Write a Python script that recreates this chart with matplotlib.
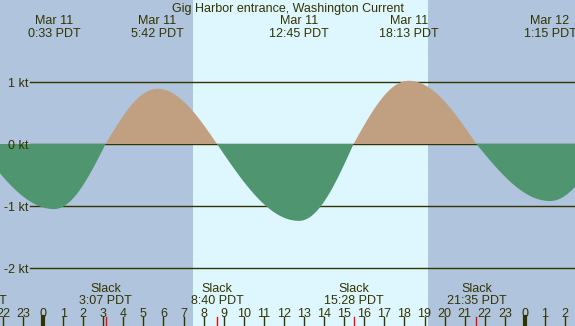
import numpy as np
import matplotlib
matplotlib.use("Agg")
from matplotlib import pyplot as plt

plt.rcParams['font.family'] = ['Liberation Sans', 'DejaVu Sans']

title = "Gig Harbor entrance, Washington Current"

# events in hours after midnight Mar 11 (slack = 0 kt)
event_hours = [-3.28, 0.55, 3.117, 5.70, 8.667, 12.75, 15.467, 18.217, 21.583, 25.25, 27.97]
event_kt = [0.0, -1.05, 0.0, 0.89, 0.0, -1.24, 0.0, 1.02, 0.0, -0.92, 0.0]

max_hours = [0.55, 5.70, 12.75, 18.217, 25.25]
max_dates = ["Mar 11", "Mar 11", "Mar 11", "Mar 11", "Mar 12"]
max_times = ["0:33 PDT", "5:42 PDT", "12:45 PDT", "18:13 PDT", "1:15 PDT"]

slack_hours = [-3.28, 3.117, 8.667, 15.467, 21.583]
slack_times = ["20:43 PDT", "3:07 PDT", "8:40 PDT", "15:28 PDT", "21:35 PDT"]

sunrise = 7.47
sunset = 19.17

kt_levels = [1, 0, -1, -2]
hours = list(range(-2, 27))

night_col = '#b0c4de'
day_col = '#def7ff'
flood_col = '#c0a080'
ebb_col = '#4f9670'
ink = '#333300'

W, H = 575, 326


def current_curve(t):
    out = np.zeros_like(t)
    for i in range(len(event_hours) - 1):
        ta, tb = event_hours[i], event_hours[i + 1]
        va, vb = event_kt[i], event_kt[i + 1]
        m = (t >= ta) & (t <= tb)
        s = (t[m] - ta) / (tb - ta)
        if va == 0:
            out[m] = vb * np.sin(np.pi / 2 * s)
        else:
            out[m] = va * np.cos(np.pi / 2 * s)
    return out


fig = plt.figure(figsize=(W / 100, H / 100), dpi=100)
ax = fig.add_axes([0, 0, 1, 1])
ax.set_facecolor(night_col)
for s in ax.spines.values():
    s.set_visible(False)
ax.set_xticks([])
ax.set_yticks([])

px_per_hour = 20.08
x0 = 43
ax.set_xlim(-x0 / px_per_hour, (W - x0) / px_per_hour)
ax.set_ylim(-(H - 144) / 62, 144 / 62)

ax.axvspan(sunrise, sunset, color=day_col, lw=0, zorder=0)

yt = ax.get_yaxis_transform()
xt = ax.get_xaxis_transform()

dy = 2  # text nudge, px

for lv in kt_levels:
    ax.plot([30 / W, 1], [lv, lv], color=ink, lw=1, transform=yt, zorder=1)
    ax.text(28 / W, lv - dy / 62, "%d kt" % lv, transform=yt, ha='right', va='center',
            fontsize=9, color=ink)

t = np.linspace(ax.get_xlim()[0], ax.get_xlim()[1], 2000)
v = current_curve(t)
ax.fill_between(t, v, 0, where=v >= 0, color=flood_col, lw=0, zorder=2)
ax.fill_between(t, v, 0, where=v <= 0, color=ebb_col, lw=0, zorder=2)

# title and max labels
ax.text(0.5, 1 - (7 + dy) / H, title, transform=ax.transAxes, ha='center', va='center',
        fontsize=9, color=ink)
for h, d, tm in zip(max_hours, max_dates, max_times):
    ax.text(h, 1 - (19 + dy) / H, d, transform=xt, ha='center', va='center', fontsize=9, color=ink)
    ax.text(h, 1 - (32 + dy) / H, tm, transform=xt, ha='center', va='center', fontsize=9, color=ink)

for h, tm in zip(slack_hours, slack_times):
    ax.text(h, 1 - (287 + dy) / H, "Slack", transform=xt, ha='center', va='center', fontsize=9, color=ink)
    ax.text(h, 1 - (299 + dy) / H, tm, transform=xt, ha='center', va='center', fontsize=9, color=ink)
    ax.plot([h, h], [0, 9 / H], color='red', lw=1, transform=xt, zorder=3)

for h in hours:
    ax.text(h, 1 - (312 + dy) / H, str(h % 24), transform=xt, ha='center', va='center',
            fontsize=9, color=ink)
    lw = 3 if h % 24 == 0 else 1
    ax.plot([h, h], [0, 9 / H], color=ink, lw=lw, transform=xt, zorder=3)

fig.savefig("out.png", dpi=100)
